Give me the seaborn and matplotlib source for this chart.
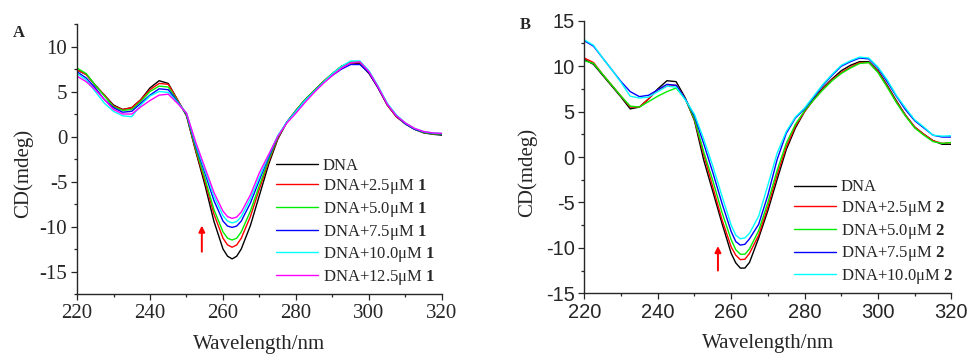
# CD spectra of DNA titrated with compounds 1 and 2

import pandas as pd
import matplotlib
matplotlib.use("Agg")
import matplotlib.pyplot as plt
from matplotlib.ticker import MultipleLocator
import seaborn as sns

wavelength = [220, 222.5, 225, 227.5, 230, 232.5, 235, 237.5, 240, 242.5,
              245, 247.5, 250, 252.5, 255, 257.5, 260, 261.25, 262.5, 263.75, 265,
              267.5, 270, 272.5, 275, 277.5, 280, 282.5, 285, 287.5, 290, 292.5,
              295, 297.5, 300, 302.5, 305, 307.5, 310, 312.5, 315, 317.5, 320]

# panel A : compound 1
labels_a = ["DNA", "DNA+2.5μM $\\mathbf{1}$", "DNA+5.0μM $\\mathbf{1}$",
            "DNA+7.5μM $\\mathbf{1}$", "DNA+10.0μM $\\mathbf{1}$", "DNA+12.5μM $\\mathbf{1}$"]
a_dna = [7.4, 6.9, 5.7, 4.6, 3.5, 3.0, 3.2, 4.1, 5.4, 6.2, 5.9, 4.1, 2.3, -1.6, -5.3, -9.4,
         -12.5, -13.3, -13.6, -13.3, -12.5, -9.9, -6.5, -3.1, -0.3, 1.6, 2.9, 4.1, 5.1, 6.1,
         7.0, 7.8, 8.2, 8.1, 7.0, 5.4, 3.5, 2.2, 1.4, 0.8, 0.4, 0.25, 0.15]
a_25 = [7.4, 6.9, 5.7, 4.6, 3.4, 3.0, 3.2, 4.1, 5.2, 5.9, 5.8, 4.1, 2.4, -1.5, -4.9, -8.6,
        -11.3, -12.05, -12.3, -12.05, -11.3, -8.9, -5.8, -2.8, -0.2, 1.6, 2.9, 4.1, 5.1, 6.1,
        7.0, 7.8, 8.2, 8.2, 7.1, 5.4, 3.5, 2.2, 1.4, 0.8, 0.45, 0.3, 0.25]
a_50 = [7.6, 7.0, 5.7, 4.5, 3.3, 2.9, 3.0, 3.9, 5.0, 5.6, 5.5, 4.0, 2.4, -1.3, -4.6, -8.1,
        -10.6, -11.3, -11.5, -11.3, -10.6, -8.3, -5.4, -2.6, -0.1, 1.6, 2.9, 4.1, 5.1, 6.1,
        7.0, 7.8, 8.3, 8.3, 7.2, 5.5, 3.6, 2.3, 1.4, 0.8, 0.45, 0.3, 0.25]
a_75 = [7.2, 6.5, 5.4, 4.1, 3.2, 2.7, 2.8, 3.7, 4.6, 5.3, 5.2, 3.9, 2.5, -1.0, -4.0, -7.1,
        -9.4, -9.95, -10.1, -9.95, -9.4, -7.4, -4.8, -2.3, 0.0, 1.6, 2.8, 4.0, 5.0, 6.0,
        6.8, 7.5, 8.0, 8.0, 7.1, 5.4, 3.6, 2.3, 1.4, 0.8, 0.5, 0.35, 0.3]
a_100 = [7.0, 6.3, 5.0, 3.7, 2.8, 2.3, 2.2, 3.5, 4.5, 5.0, 4.9, 3.8, 2.6, -0.8, -3.7, -6.6,
         -8.8, -9.4, -9.6, -9.45, -8.9, -6.9, -4.5, -2.1, 0.1, 1.6, 2.8, 4.0, 5.0, 6.0,
         7.0, 7.8, 8.4, 8.4, 7.3, 5.6, 3.7, 2.4, 1.5, 0.9, 0.55, 0.4, 0.35]
a_125 = [6.7, 6.1, 5.2, 4.1, 3.0, 2.5, 2.5, 3.3, 4.0, 4.6, 4.7, 3.7, 2.6, -0.6, -3.4, -6.2,
         -8.3, -8.9, -9.1, -8.95, -8.4, -6.5, -4.0, -2.0, 0.0, 1.5, 2.6, 3.8, 4.9, 5.9,
         6.8, 7.6, 8.2, 8.3, 7.2, 5.5, 3.6, 2.3, 1.5, 0.9, 0.55, 0.4, 0.35]

# panel B : compound 2
labels_b = ["DNA", "DNA+2.5μM $\\mathbf{2}$", "DNA+5.0μM $\\mathbf{2}$",
            "DNA+7.5μM $\\mathbf{2}$", "DNA+10.0μM $\\mathbf{2}$"]
b_dna = [10.75, 10.2, 9.0, 7.8, 6.6, 5.3, 5.5, 6.4, 7.5, 8.4, 8.3, 6.5, 4.0, -0.3, -3.8, -7.3,
         -10.6, -11.65, -12.23, -12.22, -11.6, -8.9, -5.9, -2.5, 0.8, 3.2, 5.0, 6.4, 7.6, 8.6,
         9.5, 10.1, 10.5, 10.5, 9.5, 7.9, 6.2, 4.6, 3.3, 2.5, 1.8, 1.4, 1.4]
b_25 = [10.9, 10.4, 9.1, 7.9, 6.7, 5.5, 5.5, 6.4, 7.4, 7.8, 7.9, 6.4, 4.1, 0.3, -3.3, -6.9,
        -9.9, -10.8, -11.3, -11.25, -10.6, -8.6, -5.5, -2.0, 1.1, 3.4, 5.0, 6.3, 7.5, 8.5,
        9.3, 9.9, 10.4, 10.4, 9.4, 7.8, 6.1, 4.6, 3.3, 2.5, 1.8, 1.5, 1.6]
b_50 = [10.6, 10.3, 9.1, 7.9, 6.7, 5.6, 5.5, 6.1, 6.7, 7.2, 7.6, 6.4, 4.2, 0.6, -2.6, -6.1,
        -9.1, -10.2, -10.7, -10.7, -10.1, -8.1, -5.0, -1.5, 1.5, 3.6, 5.1, 6.3, 7.4, 8.4,
        9.2, 9.8, 10.3, 10.4, 9.3, 7.7, 6.0, 4.5, 3.2, 2.4, 1.7, 1.5, 1.6]
b_75 = [12.8, 12.2, 10.9, 9.6, 8.3, 7.2, 6.65, 6.8, 7.4, 8.0, 7.9, 6.4, 4.5, 1.5, -1.7, -5.1,
        -8.2, -9.3, -9.7, -9.6, -9.0, -7.4, -4.2, -0.3, 2.6, 4.3, 5.3, 6.6, 7.9, 9.0,
        10.0, 10.5, 10.9, 10.8, 9.8, 8.3, 6.7, 5.2, 4.0, 3.2, 2.4, 2.2, 2.2]
b_100 = [12.9, 12.3, 10.9, 9.6, 8.2, 6.7, 6.5, 6.6, 7.2, 7.8, 7.7, 6.3, 4.7, 2.0, -1.0, -4.3,
         -7.5, -8.6, -9.0, -8.9, -8.4, -6.5, -3.1, 0.4, 2.8, 4.4, 5.4, 6.7, 8.0, 9.1,
         10.1, 10.6, 11.0, 10.9, 9.9, 8.5, 6.8, 5.4, 4.1, 3.3, 2.4, 2.3, 2.35]

colors = ["#000000", "#ff0000", "#00ee00", "#0000ff", "#00ffff", "#ff00ff"]

# red arrows (x, y_start, y_end)
arrow_a = (254.2, -12.8, -9.9)
arrow_b = (256.4, -12.5, -9.8)


def long_df(series, labels):
    rows = []
    for vals, lab in zip(series, labels):
        for w, v in zip(wavelength, vals):
            rows.append({"wl": w, "cd": v, "sample": lab})
    return pd.DataFrame(rows)


sns.set_style("ticks")
plt.rcParams["font.family"] = ["Liberation Serif", "DejaVu Serif"]
plt.rcParams["mathtext.fontset"] = "custom"
plt.rcParams["mathtext.rm"] = "Liberation Serif"
plt.rcParams["mathtext.bf"] = "Liberation Serif:bold"
plt.rcParams["axes.unicode_minus"] = False

fig = plt.figure(figsize=(9.71, 3.6), dpi=100)
ax_a = fig.add_axes([0.0793, 0.1833, 0.3759, 0.75])
ax_b = fig.add_axes([0.6018, 0.1853, 0.378, 0.757])

panels = [
    (ax_a, long_df([a_dna, a_25, a_50, a_75, a_100, a_125], labels_a), labels_a,
     (-17.5, 12.5), arrow_a, "Liberation Serif", (0.545, 0.505), -0.12),
    (ax_b, long_df([b_dna, b_25, b_50, b_75, b_100], labels_b), labels_b,
     (-15, 15), arrow_b, "Liberation Sans", (0.572, 0.418), -0.13),
]

for ax, df, labels, ylim, arrow, tickfont, legpos, ylab_x in panels:
    sns.lineplot(data=df, x="wl", y="cd", hue="sample", hue_order=labels,
                 palette=colors[:len(labels)], linewidth=1.0, ax=ax)
    ax.set_xlim(220, 320)
    ax.set_ylim(*ylim)
    ax.xaxis.set_major_locator(MultipleLocator(20))
    ax.xaxis.set_minor_locator(MultipleLocator(10))
    ax.yaxis.set_major_locator(MultipleLocator(5))
    ax.yaxis.set_minor_locator(MultipleLocator(2.5))
    ax.tick_params(which="major", direction="out", length=4, width=0.9, pad=3)
    ax.tick_params(which="minor", direction="out", length=2.4, width=0.9)
    for lab in ax.get_xticklabels() + ax.get_yticklabels():
        lab.set_fontfamily(tickfont)
        lab.set_fontsize(15 if tickfont == "Liberation Serif" else 14.5)
    for side in ["left", "bottom"]:
        ax.spines[side].set_linewidth(1.0)
    sns.despine(ax=ax)
    ax.set_xlabel("Wavelength/nm", fontsize=15)
    ax.set_ylabel("CD(mdeg)", fontsize=15)
    ax.xaxis.set_label_coords(0.5, -0.15)
    ax.yaxis.set_label_coords(ylab_x, 0.445)

    handles, _ = ax.get_legend_handles_labels()
    ax.legend(handles, labels, loc="upper left", bbox_to_anchor=legpos,
              frameon=False, fontsize=12, handlelength=2.5, handletextpad=0.3,
              labelspacing=0.22, borderpad=0, borderaxespad=0)

    ax.annotate("", xy=(arrow[0], arrow[2]), xytext=(arrow[0], arrow[1]),
                arrowprops=dict(arrowstyle="-|>", color="red", lw=1.4,
                                mutation_scale=9, shrinkA=0, shrinkB=0))

fig.text(13 / 971, 1 - 33 / 360, "A", fontsize=12, fontweight="bold", va="center")
fig.text(520 / 971, 1 - 25 / 360, "B", fontsize=12, fontweight="bold", va="center")

plt.savefig("out.png", dpi=100)
plt.close()
